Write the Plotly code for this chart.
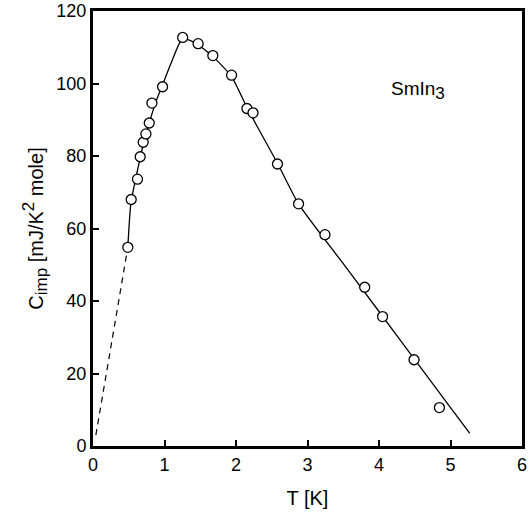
import plotly.graph_objects as go

# measured data points
T_data = [0.487, 0.534, 0.622, 0.660, 0.702, 0.740, 0.787, 0.824, 0.973, 1.254, 1.470,
          1.676, 1.938, 2.153, 2.238, 2.580, 2.875, 3.244, 3.800, 4.050, 4.490, 4.845]
C_data = [54.8, 68.0, 73.6, 79.8, 83.8, 86.1, 89.1, 94.6, 99.1, 112.7, 111.0,
          107.7, 102.3, 93.1, 91.9, 77.8, 66.8, 58.3, 43.8, 35.7, 23.8, 10.6]

# solid fit curve
T_fit = [0.487, 0.53, 0.60, 0.66, 0.72, 0.80, 0.88, 0.97, 1.10, 1.25, 1.40, 1.55, 1.70,
         1.95, 2.15, 2.30, 2.58, 2.875, 3.5, 4.0, 4.5, 5.0, 5.27]
C_fit = [54.8, 67.0, 74.0, 79.5, 84.5, 90.0, 95.0, 99.5, 106.0, 112.3, 111.5, 109.5, 107.0,
         101.5, 93.5, 88.0, 78.0, 66.8, 50.3, 37.1, 23.8, 10.6, 3.5]

# dashed extrapolation
T_dash = [0.04, 0.487]
C_dash = [3.0, 54.8]

x_ticks = [0, 1, 2, 3, 4, 5, 6]
y_ticks = [0, 20, 40, 60, 80, 100, 120]

FONT = "Liberation Sans, Arial, sans-serif"

fig = go.Figure()
fig.add_trace(go.Scatter(x=T_dash, y=C_dash, mode="lines",
                         line=dict(color="black", width=1.2, dash="6px,5px"),
                         showlegend=False, hoverinfo="skip"))
fig.add_trace(go.Scatter(x=T_fit, y=C_fit, mode="lines",
                         line=dict(color="black", width=1.3, shape="spline", smoothing=0.6),
                         showlegend=False, hoverinfo="skip"))
fig.add_trace(go.Scatter(x=T_data, y=C_data, mode="markers",
                         marker=dict(symbol="circle", size=10, color="white",
                                     line=dict(color="black", width=1.3)),
                         showlegend=False))

fig.add_annotation(x=4.55, y=98.0, xref="x", yref="y",
                   text="SmIn<sub><span style='font-size:17px'>3</span></sub>",
                   showarrow=False,
                   font=dict(family=FONT, size=19, color="black"))

fig.update_xaxes(range=[0, 6], tickvals=x_ticks, ticks="inside", ticklen=6, tickwidth=2,
                 tickcolor="black", showline=True, linewidth=3, linecolor="black",
                 mirror=True, showgrid=False, zeroline=False, automargin=False,
                 tickfont=dict(family=FONT, size=18, color="black"),
                 title=dict(text="T [K]", font=dict(family=FONT, size=20, color="black"),
                            standoff=18))
fig.update_yaxes(range=[0, 120], tickvals=y_ticks, ticks="inside", ticklen=6, tickwidth=2,
                 tickcolor="black", showline=True, linewidth=3, linecolor="black",
                 mirror=True, showgrid=False, zeroline=False, automargin=False,
                 tickfont=dict(family=FONT, size=18, color="black"),
                 title=dict(text="C<sub><span style='font-size:17px'>imp</span></sub>"
                                 " [mJ/K<sup><span style='font-size:17px'>2</span></sup> mole]",
                            font=dict(family=FONT, size=20, color="black"),
                            standoff=8))

fig.update_layout(width=531, height=517, margin=dict(l=93, r=9, t=11, b=71),
                  plot_bgcolor="white", paper_bgcolor="white")

fig.write_html("out.html", config={"displayModeBar": False},
               post_script="document.body.style.margin='0';document.body.style.overflow='hidden';")
